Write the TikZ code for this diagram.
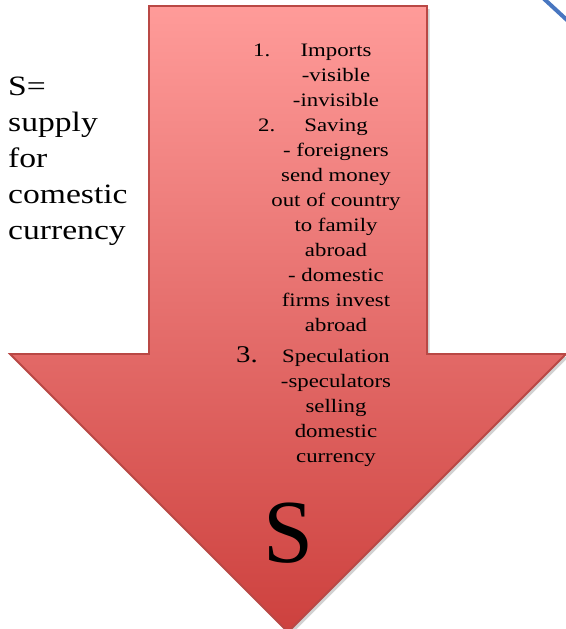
\documentclass[tikz,border=0pt]{standalone}
\usepackage{fontspec}
\setmainfont{Liberation Serif}[FakeStretch=1.2]
\newfontfamily\bigS{Liberation Serif}
\usetikzlibrary{shadows}
\definecolor{arrtop}{RGB}{255,155,153}
\definecolor{arrmid}{RGB}{229,110,108}
\definecolor{arrbot}{RGB}{205,65,62}
\definecolor{arredge}{RGB}{185,72,69}
\definecolor{bluel}{RGB}{72,118,192}
\tikzset{
  lefttxt/.style={anchor=base west,inner sep=0pt,font=\fontsize{28}{28}\selectfont},
  righttxt/.style={anchor=base,inner sep=0pt,font=\fontsize{19}{19}\selectfont},
  numtxt/.style={anchor=base west,inner sep=0pt,font=\fontsize{19}{19}\selectfont},
}
\begin{document}
\begin{tikzpicture}[x=1pt,y=-1pt]
\useasboundingbox (0,0) rectangle (565,629);
% blue line at top right
\draw[bluel,line width=4pt] (542,-3) -- (568,21);
% arrow
\path[drop shadow={shadow xshift=2.5pt,shadow yshift=-3pt,opacity=0.3,fill=black!60},
  draw=arredge,line width=1.8pt,line join=miter,
  top color=arrtop,bottom color=arrbot,middle color=arrmid]
  (149,6) -- (427,6) -- (427,354) -- (566,354) -- (288,632) -- (10,354) -- (149,354) -- cycle;
% left text
\foreach \yy/\tt [count=\i] in {95/S=,131/supply,167/for,203/comestic,239/currency}
  \node[lefttxt] (l\i) at (8,\yy) {\tt};
% right text
\foreach \yy/\tt [count=\i] in {56/Imports,81/-visible,106/-invisible,131/Saving,156/- foreigners,181/send money,206/out of country,231/to family,256/abroad,281/- domestic,306/firms invest,331/abroad,362/Speculation,387/-speculators,412/selling,437/domestic,462/currency}
  \node[righttxt] (r\i) at (336,\yy) {\tt};
\node[numtxt] (n1) at (253,56) {1.};
\node[numtxt] (n2) at (258,131) {2.};
\node[anchor=base west,inner sep=0pt,font=\fontsize{24}{24}\selectfont] (n3) at (236,362) {3.};
% big S
\node[anchor=base,inner sep=0pt,font=\bigS\fontsize{90}{90}\selectfont] (bigs) at (289,562) {S};
\end{tikzpicture}
\end{document}
